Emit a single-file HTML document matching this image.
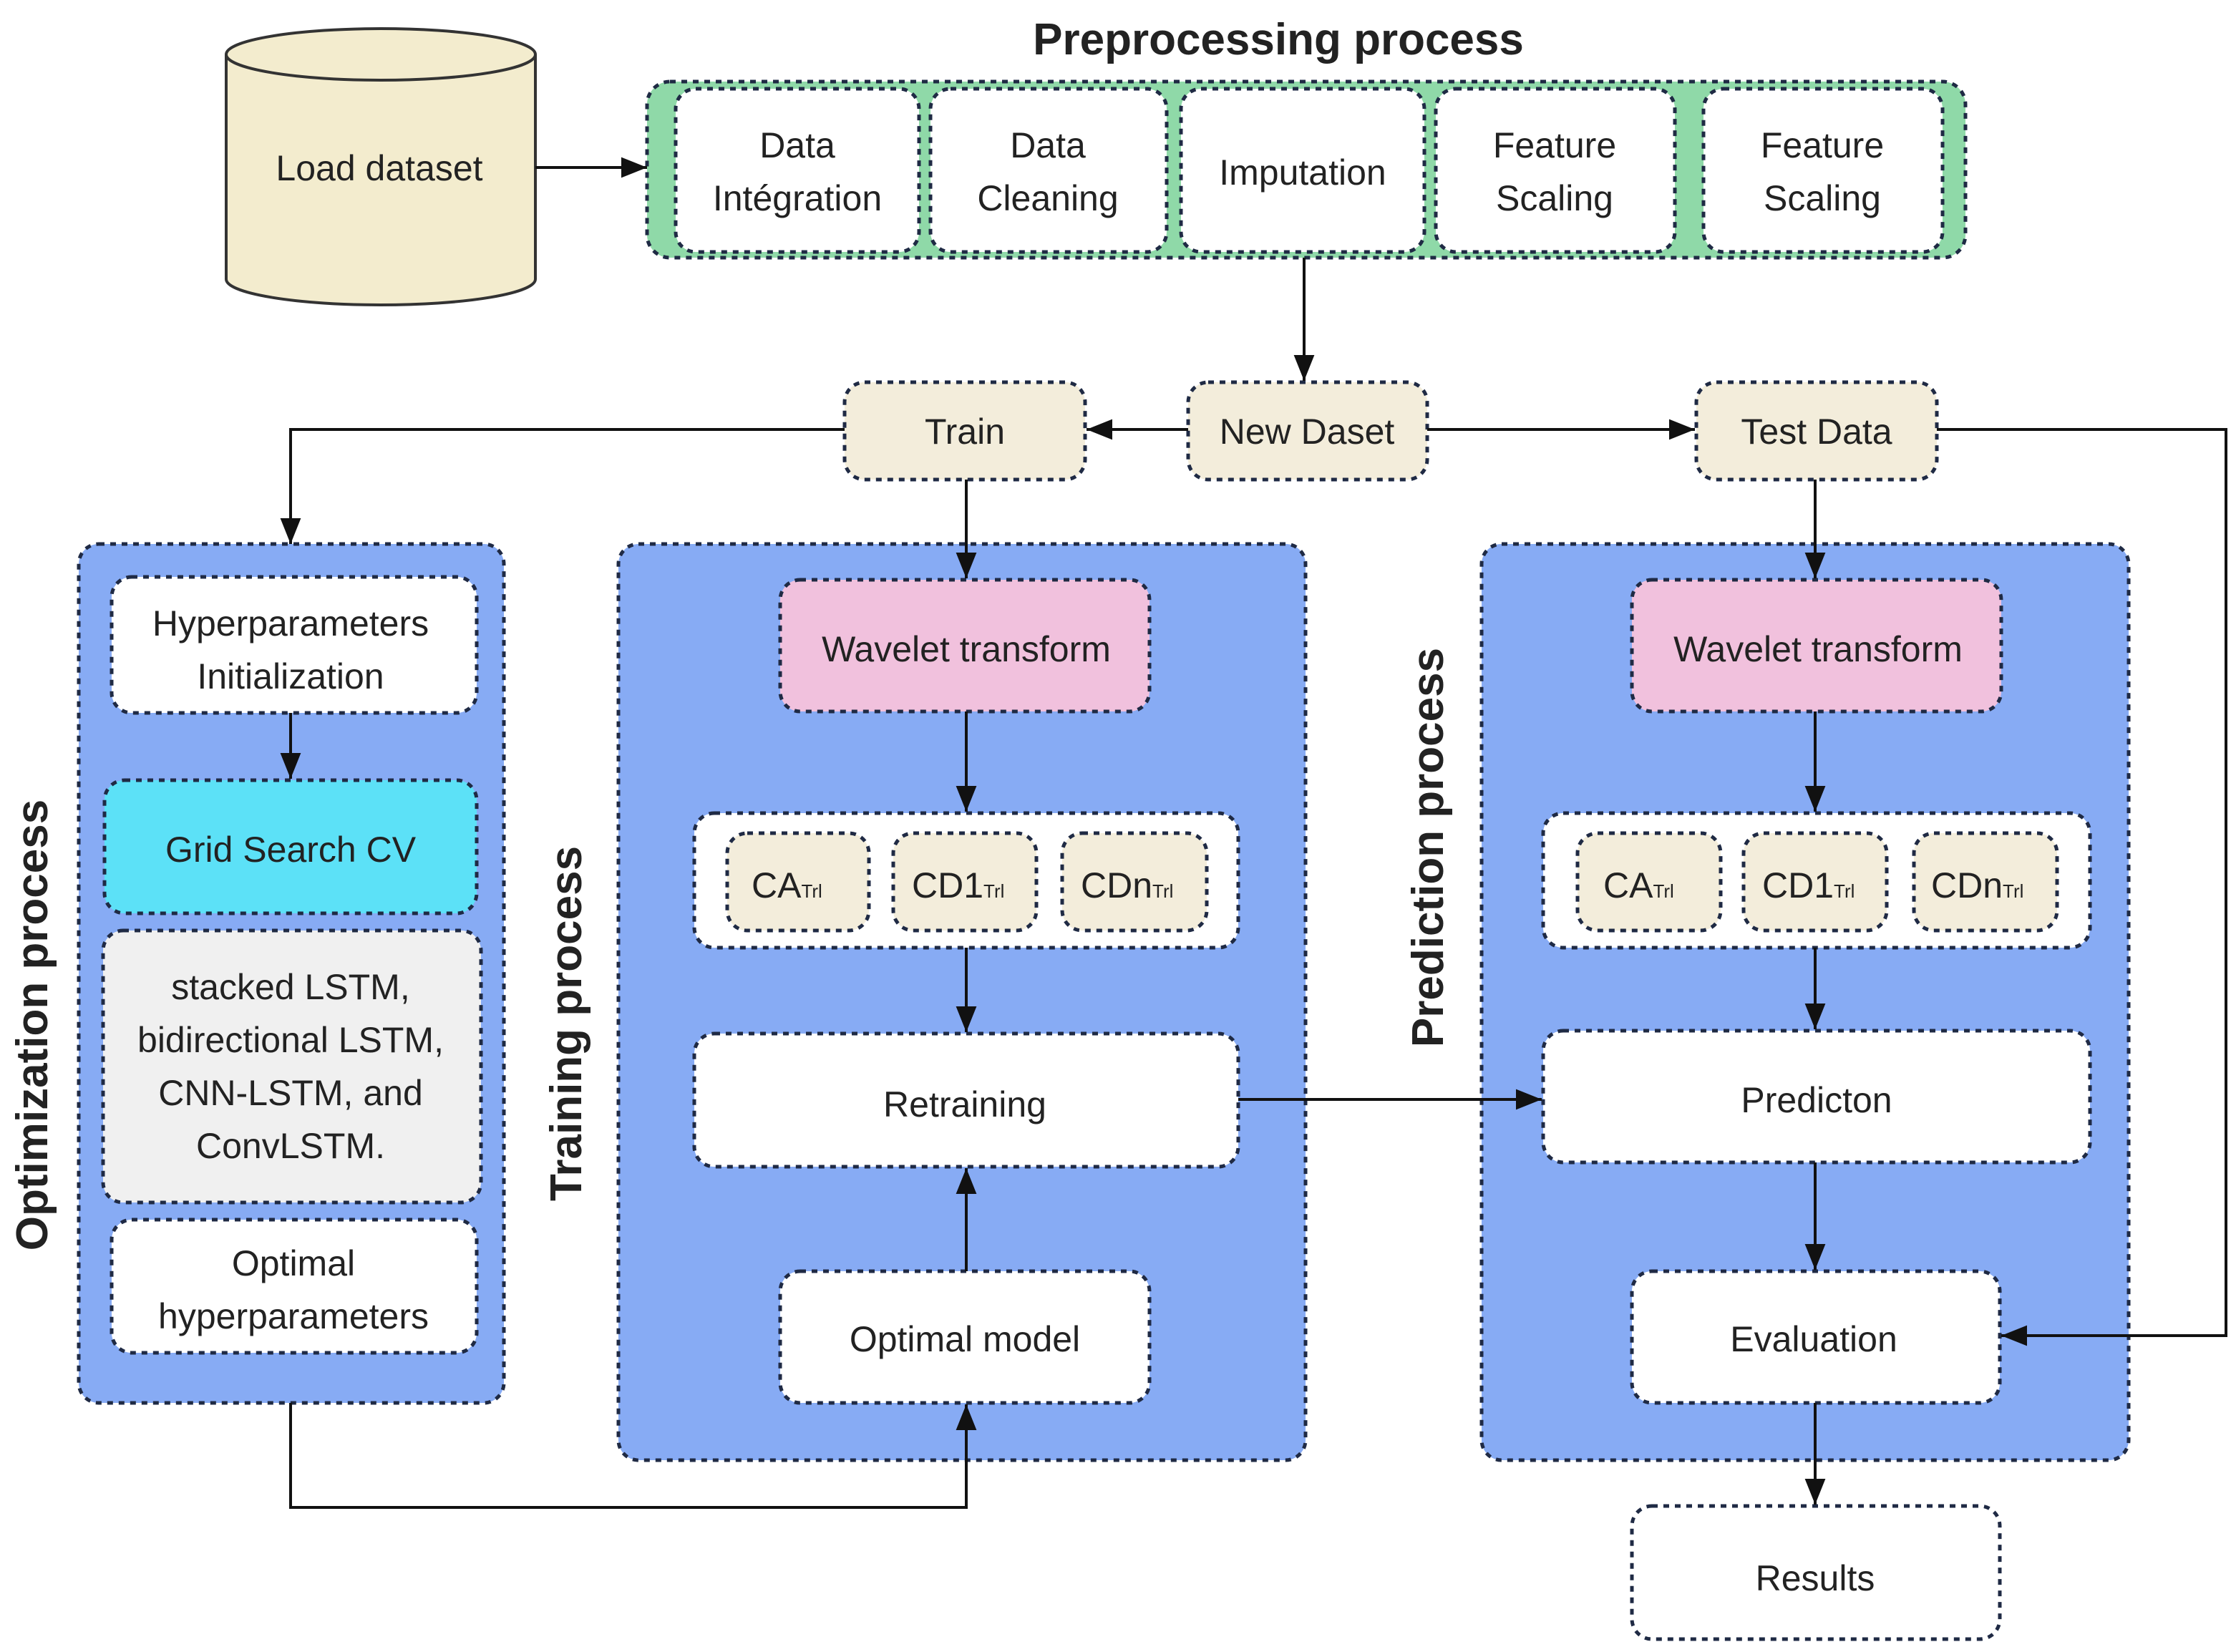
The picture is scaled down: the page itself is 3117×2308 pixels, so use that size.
<!DOCTYPE html>
<html><head><meta charset="utf-8"><style>
html,body{margin:0;padding:0;background:#fff;}
svg{display:block;}
text{font-family:"Liberation Sans",sans-serif;fill:#222;}
</style></head><body>
<svg width="3117" height="2308" viewBox="0 0 1558.5 1154" xmlns="http://www.w3.org/2000/svg">
<defs>
<marker id="a" viewBox="0 0 10 10" refX="10" refY="5" markerWidth="6" markerHeight="6" orient="auto-start-reverse" markerUnits="userSpaceOnUse">
<path d="M0,0 L10,5 L0,10 z" fill="#111"/></marker>
<marker id="b" viewBox="0 0 10 10" refX="10" refY="5" markerWidth="18" markerHeight="18" orient="auto" markerUnits="userSpaceOnUse">
<path d="M0,1 L10,5 L0,9 z" fill="#111"/></marker>
</defs>
<g stroke="#1f2a44" stroke-width="2.5" stroke-dasharray="4 4">
<!-- panels -->
<rect x="55" y="380" width="297" height="600" rx="14" fill="#87abf4"/>
<rect x="432" y="380" width="480" height="640" rx="14" fill="#87abf4"/>
<rect x="1035" y="380" width="452" height="640" rx="14" fill="#87abf4"/>
<!-- preprocessing -->
<rect x="452" y="57" width="921" height="123" rx="16" fill="#8fd9a8"/>
<rect x="472" y="62" width="170" height="114" rx="14" fill="#fff"/>
<rect x="650" y="62" width="165" height="114" rx="14" fill="#fff"/>
<rect x="825" y="62" width="170" height="114" rx="14" fill="#fff"/>
<rect x="1003" y="62" width="167" height="114" rx="14" fill="#fff"/>
<rect x="1190" y="62" width="167" height="114" rx="14" fill="#fff"/>
<!-- split -->
<rect x="590" y="267" width="168" height="68" rx="14" fill="#f3eddb"/>
<rect x="830" y="267" width="167" height="68" rx="14" fill="#f3eddb"/>
<rect x="1185" y="267" width="168" height="68" rx="14" fill="#f3eddb"/>
<!-- optimization -->
<rect x="78" y="403" width="255" height="95" rx="14" fill="#fff"/>
<rect x="73" y="545" width="260" height="93" rx="14" fill="#5ce1f7"/>
<rect x="72" y="650" width="264" height="190" rx="14" fill="#f0f0f0"/>
<rect x="78" y="852" width="255" height="93" rx="14" fill="#fff"/>
<!-- training -->
<rect x="545" y="405" width="258" height="92" rx="14" fill="#f1c1dd"/>
<rect x="485" y="568" width="380" height="94" rx="14" fill="#fff"/>
<rect x="508" y="582" width="99" height="68" rx="14" fill="#f3eddb"/>
<rect x="624" y="582" width="100" height="68" rx="14" fill="#f3eddb"/>
<rect x="742" y="582" width="101" height="68" rx="14" fill="#f3eddb"/>
<rect x="485" y="722" width="380" height="93" rx="14" fill="#fff"/>
<rect x="545" y="888" width="258" height="92" rx="14" fill="#fff"/>
<!-- prediction -->
<rect x="1140" y="405" width="258" height="92" rx="14" fill="#f1c1dd"/>
<rect x="1078" y="568" width="382" height="94" rx="14" fill="#fff"/>
<rect x="1102" y="582" width="100" height="68" rx="14" fill="#f3eddb"/>
<rect x="1218" y="582" width="100" height="68" rx="14" fill="#f3eddb"/>
<rect x="1337" y="582" width="100" height="68" rx="14" fill="#f3eddb"/>
<rect x="1078" y="720" width="382" height="92" rx="14" fill="#fff"/>
<rect x="1140" y="888" width="257" height="92" rx="14" fill="#fff"/>
<rect x="1140" y="1052" width="257" height="93" rx="14" fill="#fff"/>
</g>
<!-- cylinder -->
<g stroke="#333" stroke-width="2" fill="#f3ecce">
<path d="M158,38 L158,195 A108,18 0 0 0 374,195 L374,38"/>
<ellipse cx="266" cy="38" rx="108" ry="18"/>
</g>
<!-- connectors -->
<g stroke="#111" stroke-width="2" fill="none">
<line x1="374" y1="117" x2="452" y2="117" marker-end="url(#b)"/>
<line x1="911" y1="180" x2="911" y2="266" marker-end="url(#b)"/>
<line x1="830" y1="300" x2="759" y2="300" marker-end="url(#b)"/>
<line x1="997" y1="300" x2="1184" y2="300" marker-end="url(#b)"/>
<polyline points="590,300 203,300 203,380" marker-end="url(#b)"/>
<line x1="675" y1="335" x2="675" y2="404" marker-end="url(#b)"/>
<line x1="1268" y1="335" x2="1268" y2="404" marker-end="url(#b)"/>
<polyline points="1353,300 1555,300 1555,933 1398,933" marker-end="url(#b)"/>
<line x1="203" y1="498" x2="203" y2="544" marker-end="url(#b)"/>
<line x1="675" y1="497" x2="675" y2="567" marker-end="url(#b)"/>
<line x1="675" y1="662" x2="675" y2="721" marker-end="url(#b)"/>
<line x1="675" y1="888" x2="675" y2="816" marker-end="url(#b)"/>
<polyline points="203,980 203,1053 675,1053 675,981" marker-end="url(#b)"/>
<line x1="1268" y1="497" x2="1268" y2="567" marker-end="url(#b)"/>
<line x1="1268" y1="662" x2="1268" y2="719" marker-end="url(#b)"/>
<line x1="865" y1="768" x2="1077" y2="768" marker-end="url(#b)"/>
<line x1="1268" y1="812" x2="1268" y2="887" marker-end="url(#b)"/>
<line x1="1268" y1="980" x2="1268" y2="1051" marker-end="url(#b)"/>
</g>
<!-- text -->
<g font-size="25" text-anchor="middle">
<text x="893" y="38" font-weight="bold" font-size="31">Preprocessing process</text>
<text x="265" y="126">Load dataset</text>
<text x="557" y="110">Data</text><text x="557" y="147">Intégration</text>
<text x="732" y="110">Data</text><text x="732" y="147">Cleaning</text>
<text x="910" y="129">Imputation</text>
<text x="1086" y="110">Feature</text><text x="1086" y="147">Scaling</text>
<text x="1273" y="110">Feature</text><text x="1273" y="147">Scaling</text>
<text x="674" y="310">Train</text>
<text x="913" y="310">New Daset</text>
<text x="1269" y="310">Test Data</text>
<text x="203" y="444">Hyperparameters</text><text x="203" y="481">Initialization</text>
<text x="203" y="602" fill="#1d5c6a">Grid Search CV</text>
<text x="203" y="698">stacked LSTM,</text>
<text x="203" y="735">bidirectional LSTM,</text>
<text x="203" y="772">CNN-LSTM, and</text>
<text x="203" y="809">ConvLSTM.</text>
<text x="205" y="891">Optimal</text><text x="205" y="928">hyperparameters</text>
<text x="675" y="462">Wavelet transform</text>
<text x="1270" y="462">Wavelet transform</text>
<text x="674" y="780">Retraining</text>
<text x="674" y="944">Optimal model</text>
<text x="1269" y="777">Predicton</text>
<text x="1267" y="944">Evaluation</text>
<text x="1268" y="1111">Results</text>
<g text-anchor="start">
<text x="525" y="627">CA<tspan font-size="13">Trl</tspan></text>
<text x="637" y="627">CD1<tspan font-size="13">Trl</tspan></text>
<text x="755" y="627">CDn<tspan font-size="13">Trl</tspan></text>
<text x="1120" y="627">CA<tspan font-size="13">Trl</tspan></text>
<text x="1231" y="627">CD1<tspan font-size="13">Trl</tspan></text>
<text x="1349" y="627">CDn<tspan font-size="13">Trl</tspan></text>
</g>
<text transform="translate(33,716) rotate(-90)" font-weight="bold" font-size="31">Optimization process</text>
<text transform="translate(406,715) rotate(-90)" font-weight="bold" font-size="31">Training process</text>
<text transform="translate(1008,592) rotate(-90)" font-weight="bold" font-size="31">Prediction process</text>
</g>
</svg>
</body></html>
